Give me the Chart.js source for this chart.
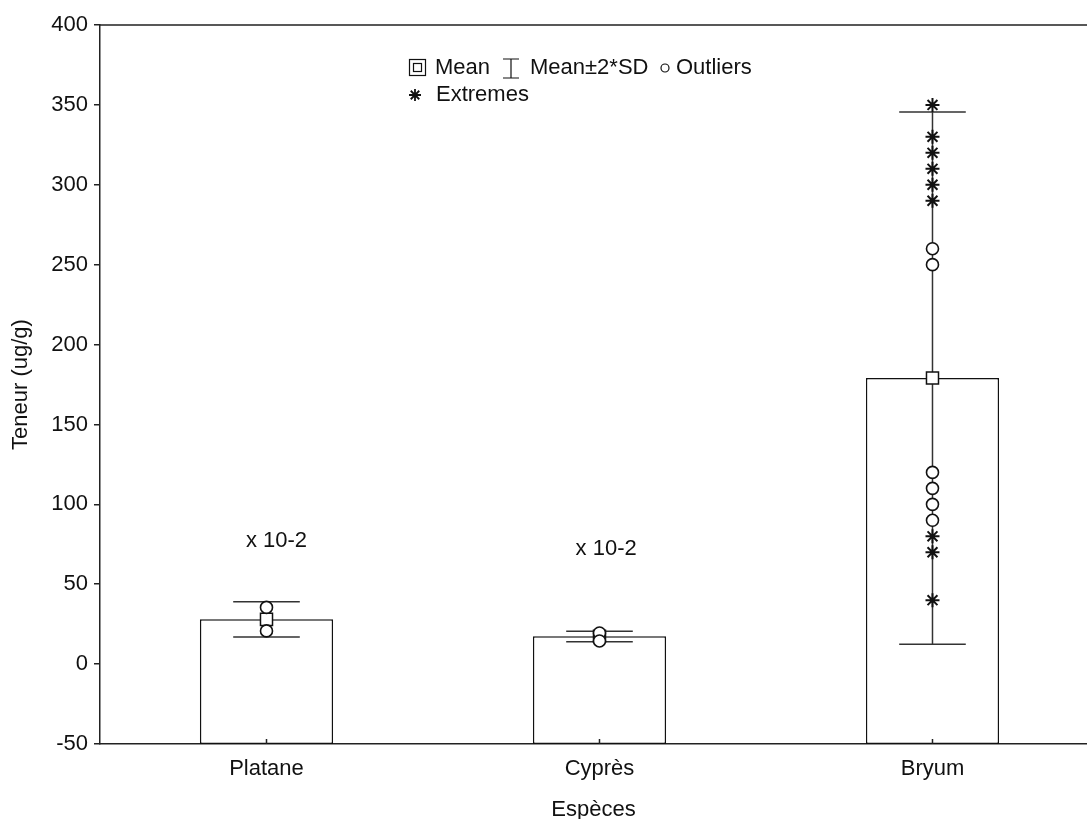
<!DOCTYPE html>
<html lang="fr">
<head>
    <meta charset="UTF-8">
    <title>Teneur par espèce</title>
    <script src="https://cdn.jsdelivr.net/npm/chart.js"></script>
    <style>
body {
  margin: 0;
  background: #fff;
}
#wrap {
  width: 1087px;
  height: 819px;
}
    </style>
</head>
<body>
<div id="wrap"><canvas id="myChart"></canvas></div>
<script>
// values
const species = ['Platane', 'Cyprès', 'Bryum'];
const means = [28, 17.5, 179];
const sdLow = [17, 14, 12.5];      // mean - 2*SD
const sdHigh = [39, 20.5, 345.5];  // mean + 2*SD
const outliers = [[35.5, 20.8], [19.5, 14.5], [260, 250, 120, 110, 100, 90]];
const extremes = [[], [], [350, 330, 320, 310, 300, 290, 80, 70, 40]];
const yTicks = [-50, 0, 50, 100, 150, 200, 250, 300, 350, 400];
const notes = ['x 10-2', 'x 10-2'];
const noteAt = [[1.03, 77], [2.02, 72]];

const ink = '#111';
const font = '"Liberation Sans", Arial, sans-serif';

// build point lists for the scatter layers
const meanPts = means.map((m, i) => ({ x: i + 1, y: m }));
const outPts = [];
outliers.forEach((list, i) => list.forEach(v => outPts.push({ x: i + 1, y: v })));
const extPts = [];
extremes.forEach((list, i) => list.forEach(v => extPts.push({ x: i + 1, y: v })));

const extras = {
    id: 'extras',
    afterDatasetDraw(chart, args) {
        if (args.index !== 0) return;
        // whiskers: mean +/- 2*SD, drawn over the bars
        const ctx = chart.ctx, xs = chart.scales.x, ys = chart.scales.y;
        const bars = chart.getDatasetMeta(0).data;
        ctx.save();
        ctx.strokeStyle = '#333';
        ctx.lineWidth = 1.5;
        species.forEach((s, i) => {
            const cx = xs.getPixelForValue(i + 1);
            const half = bars[i].width / 4;
            const top = ys.getPixelForValue(sdHigh[i]);
            const bot = ys.getPixelForValue(sdLow[i]);
            ctx.beginPath();
            ctx.moveTo(cx, top); ctx.lineTo(cx, bot);
            ctx.moveTo(cx - half, top); ctx.lineTo(cx + half, top);
            ctx.moveTo(cx - half, bot); ctx.lineTo(cx + half, bot);
            ctx.stroke();
        });
        ctx.restore();
    },
    afterDraw(chart) {
        const ctx = chart.ctx, area = chart.chartArea;
        const xs = chart.scales.x, ys = chart.scales.y;
        ctx.save();
        ctx.strokeStyle = '#222';
        ctx.lineWidth = 1.5;

        // top frame line
        ctx.beginPath();
        ctx.moveTo(area.left, area.top);
        ctx.lineTo(area.right, area.top);
        // category ticks point inward
        xs.ticks.forEach(t => {
            const px = xs.getPixelForValue(t.value);
            ctx.moveTo(px, area.bottom);
            ctx.lineTo(px, area.bottom - 5);
        });
        ctx.stroke();

        ctx.fillStyle = ink;
        ctx.font = '22px ' + font;
        ctx.textBaseline = 'middle';

        // "x 10-2" notes
        ctx.textAlign = 'center';
        notes.forEach((txt, i) => {
            ctx.fillText(txt, xs.getPixelForValue(noteAt[i][0]), ys.getPixelForValue(noteAt[i][1]));
        });

        // legend
        ctx.textAlign = 'left';
        const L = area.left, r1 = area.top + 43, r2 = area.top + 70;
        ctx.lineWidth = 1.2;
        ctx.strokeStyle = ink;
        ctx.strokeRect(L + 309.5, r1 - 8.5, 16, 16);
        ctx.strokeRect(L + 313.5, r1 - 4.5, 8, 8);
        ctx.fillText('Mean', L + 335, r1);

        ctx.beginPath();
        ctx.moveTo(L + 403, r1 - 9); ctx.lineTo(L + 419, r1 - 9);
        ctx.moveTo(L + 411, r1 - 9); ctx.lineTo(L + 411, r1 + 10);
        ctx.moveTo(L + 403, r1 + 10); ctx.lineTo(L + 419, r1 + 10);
        ctx.stroke();
        ctx.fillText('Mean±2*SD', L + 430, r1);

        ctx.beginPath();
        ctx.arc(L + 565, r1, 4, 0, Math.PI * 2);
        ctx.stroke();
        ctx.fillText('Outliers', L + 576, r1);

        ctx.lineWidth = 1.8;
        ctx.beginPath();
        const sx = L + 315, rr = 6, d = rr * Math.SQRT1_2;
        ctx.moveTo(sx - rr, r2); ctx.lineTo(sx + rr, r2);
        ctx.moveTo(sx, r2 - rr); ctx.lineTo(sx, r2 + rr);
        ctx.moveTo(sx - d, r2 - d); ctx.lineTo(sx + d, r2 + d);
        ctx.moveTo(sx - d, r2 + d); ctx.lineTo(sx + d, r2 - d);
        ctx.stroke();
        ctx.fillText('Extremes', L + 336, r2);

        ctx.restore();
    }
};

const ctx = document.getElementById('myChart').getContext('2d');
new Chart(ctx, {
    type: 'bar',
    data: {
        datasets: [
            {
                type: 'bar',
                label: 'Mean',
                data: means.map((m, i) => ({ x: i + 1, y: [-50, m] })),
                backgroundColor: '#fff',
                borderColor: ink,
                borderWidth: 1.5,
                borderSkipped: false,
                barPercentage: 0.4,
                categoryPercentage: 1,
                order: 3
            },
            {
                type: 'scatter',
                label: 'Extremes',
                data: extPts,
                pointStyle: 'star',
                radius: 7,
                borderColor: ink,
                borderWidth: 2,
                order: 0
            },
            {
                type: 'scatter',
                label: 'Outliers',
                data: outPts,
                pointStyle: 'circle',
                radius: 6,
                backgroundColor: '#fff',
                borderColor: ink,
                borderWidth: 1.6,
                order: 1
            },
            {
                type: 'scatter',
                label: 'Mean',
                data: meanPts,
                pointStyle: 'rect',
                radius: 8.5,
                backgroundColor: '#fff',
                borderColor: ink,
                borderWidth: 1.5,
                order: 2
            }
        ]
    },
    options: {
        responsive: true,
        maintainAspectRatio: false,
        animation: false,
        layout: { autoPadding: false, padding: { top: 25, right: 0, bottom: 0, left: 0 } },
        plugins: {
            legend: { display: false },
            tooltip: { enabled: false }
        },
        scales: {
            x: {
                type: 'linear',
                offset: false,
                min: 0.5,
                max: 3.464,
                afterBuildTicks: scale => {
                    scale.ticks = species.map((s, i) => ({ value: i + 1 }));
                },
                afterFit: scale => {
                    scale.height = 75;
                    scale.paddingLeft = 0;
                    scale.paddingRight = 0;
                },
                grid: { display: true, drawOnChartArea: false, drawTicks: false, offset: false },
                border: { display: true, color: '#222', width: 1.5 },
                ticks: {
                    color: ink,
                    padding: 12,
                    font: { family: font, size: 22 },
                    maxRotation: 0,
                    callback: v => species[v - 1] || ''
                },
                title: {
                    display: true,
                    text: 'Espèces',
                    color: ink,
                    font: { family: font, size: 22, lineHeight: 0.85 },
                    padding: { top: 0, bottom: 0 }
                }
            },
            y: {
                min: -50,
                max: 400,
                afterBuildTicks: scale => {
                    scale.ticks = yTicks.map(v => ({ value: v }));
                },
                afterFit: scale => { scale.width = 100; },
                grid: { display: true, drawOnChartArea: false, drawTicks: true, tickLength: 6, color: '#222', lineWidth: 1.5 },
                border: { display: true, color: '#222', width: 1.5 },
                ticks: {
                    color: ink,
                    padding: 6,
                    font: { family: font, size: 22 }
                },
                title: {
                    display: true,
                    text: 'Teneur (ug/g)',
                    color: ink,
                    font: { family: font, size: 22, lineHeight: 1 },
                    padding: { top: 10, bottom: 0 }
                }
            }
        }
    },
    plugins: [extras]
});
</script>
</body>
</html>
